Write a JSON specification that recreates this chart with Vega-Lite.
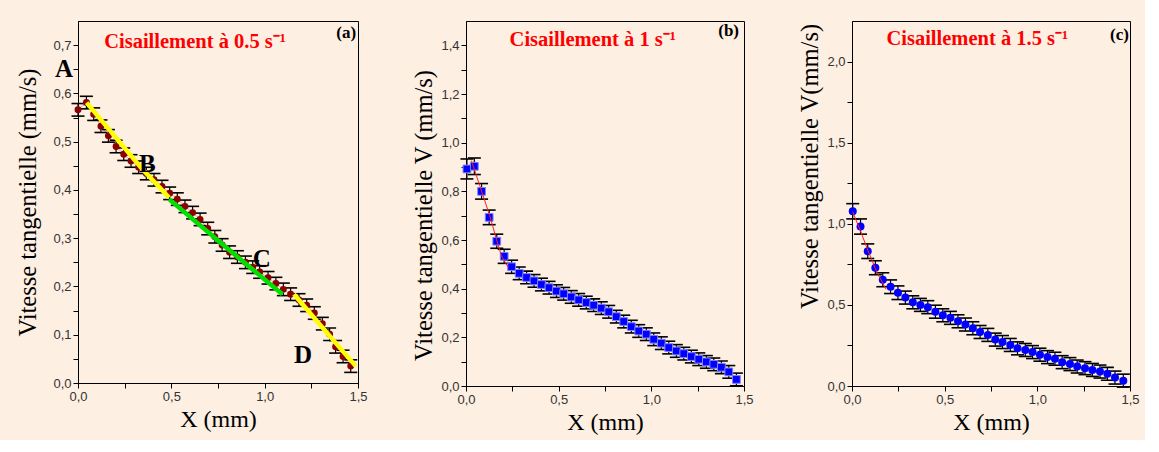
{
  "$schema": "https://vega.github.io/schema/vega-lite/v6.json",
  "background": "#FDEFE2",
  "padding": {"left": 15, "top": 20, "right": 5, "bottom": 5},
  "spacing": 108,
  "bounds": "flush",
  "datasets": {
    "a": [
      {"x": 0.0, "v": 0.566, "e": 0.013}, {"x": 0.045, "v": 0.581, "e": 0.013}, {"x": 0.084, "v": 0.557, "e": 0.013},
      {"x": 0.123, "v": 0.532, "e": 0.013}, {"x": 0.163, "v": 0.512, "e": 0.013}, {"x": 0.204, "v": 0.49, "e": 0.013},
      {"x": 0.245, "v": 0.474, "e": 0.013}, {"x": 0.284, "v": 0.46, "e": 0.013}, {"x": 0.325, "v": 0.447, "e": 0.013},
      {"x": 0.366, "v": 0.434, "e": 0.013}, {"x": 0.407, "v": 0.421, "e": 0.013}, {"x": 0.45, "v": 0.407, "e": 0.013},
      {"x": 0.491, "v": 0.393, "e": 0.013}, {"x": 0.532, "v": 0.381, "e": 0.013}, {"x": 0.573, "v": 0.366, "e": 0.013},
      {"x": 0.614, "v": 0.353, "e": 0.013}, {"x": 0.654, "v": 0.339, "e": 0.013}, {"x": 0.695, "v": 0.32, "e": 0.013},
      {"x": 0.733, "v": 0.303, "e": 0.013}, {"x": 0.772, "v": 0.286, "e": 0.013}, {"x": 0.812, "v": 0.271, "e": 0.013},
      {"x": 0.854, "v": 0.261, "e": 0.013}, {"x": 0.897, "v": 0.25, "e": 0.013}, {"x": 0.936, "v": 0.24, "e": 0.013},
      {"x": 0.973, "v": 0.23, "e": 0.013}, {"x": 1.018, "v": 0.218, "e": 0.013}, {"x": 1.06, "v": 0.206, "e": 0.013},
      {"x": 1.1, "v": 0.194, "e": 0.013}, {"x": 1.139, "v": 0.184, "e": 0.013}, {"x": 1.184, "v": 0.172, "e": 0.013},
      {"x": 1.225, "v": 0.161, "e": 0.013}, {"x": 1.266, "v": 0.145, "e": 0.013}, {"x": 1.309, "v": 0.123, "e": 0.013},
      {"x": 1.348, "v": 0.101, "e": 0.013}, {"x": 1.38, "v": 0.075, "e": 0.013}, {"x": 1.42, "v": 0.055, "e": 0.013},
      {"x": 1.461, "v": 0.035, "e": 0.013}
    ],
    "a_seg": [
      {"x": 0.046, "v": 0.581, "seg": "AB"}, {"x": 0.336, "v": 0.447, "seg": "AB"}, {"x": 0.4875, "v": 0.384, "seg": "AB"},
      {"x": 0.4875, "v": 0.381, "seg": "BC"}, {"x": 0.809, "v": 0.276, "seg": "BC"}, {"x": 1.095, "v": 0.184, "seg": "BC"},
      {"x": 1.157, "v": 0.184, "seg": "CD"}, {"x": 1.309, "v": 0.115, "seg": "CD"}, {"x": 1.488, "v": 0.035, "seg": "CD"}
    ],
    "a_letters": [
      {"x": -0.075, "v": 0.651, "t": "A"}, {"x": 0.371, "v": 0.454, "t": "B"},
      {"x": 0.984, "v": 0.257, "t": "C"}, {"x": 1.205, "v": 0.058, "t": "D"}
    ],
    "a_title": [{"x": 0.627, "v": 0.707, "t": "Cisaillement à 0.5 s⁻¹"}],
    "a_tag": [{"x": 1.49, "v": 0.726, "t": "(a)"}],
    "b": [
      {"x": 0.005, "v": 0.892, "e": 0.041}, {"x": 0.045, "v": 0.903, "e": 0.034}, {"x": 0.084, "v": 0.8, "e": 0.032},
      {"x": 0.125, "v": 0.693, "e": 0.03}, {"x": 0.166, "v": 0.595, "e": 0.029}, {"x": 0.206, "v": 0.533, "e": 0.029},
      {"x": 0.246, "v": 0.49, "e": 0.027}, {"x": 0.287, "v": 0.463, "e": 0.026}, {"x": 0.327, "v": 0.446, "e": 0.026},
      {"x": 0.367, "v": 0.432, "e": 0.026}, {"x": 0.407, "v": 0.417, "e": 0.026}, {"x": 0.448, "v": 0.404, "e": 0.026},
      {"x": 0.488, "v": 0.39, "e": 0.026}, {"x": 0.527, "v": 0.379, "e": 0.026}, {"x": 0.568, "v": 0.366, "e": 0.026},
      {"x": 0.608, "v": 0.354, "e": 0.026}, {"x": 0.649, "v": 0.343, "e": 0.026}, {"x": 0.689, "v": 0.332, "e": 0.026},
      {"x": 0.73, "v": 0.32, "e": 0.026}, {"x": 0.77, "v": 0.305, "e": 0.026}, {"x": 0.811, "v": 0.285, "e": 0.026},
      {"x": 0.851, "v": 0.265, "e": 0.026}, {"x": 0.892, "v": 0.244, "e": 0.026}, {"x": 0.932, "v": 0.226, "e": 0.026},
      {"x": 0.973, "v": 0.213, "e": 0.026}, {"x": 1.013, "v": 0.192, "e": 0.026}, {"x": 1.054, "v": 0.176, "e": 0.026},
      {"x": 1.094, "v": 0.158, "e": 0.026}, {"x": 1.135, "v": 0.144, "e": 0.026}, {"x": 1.175, "v": 0.133, "e": 0.026},
      {"x": 1.216, "v": 0.121, "e": 0.026}, {"x": 1.256, "v": 0.11, "e": 0.026}, {"x": 1.297, "v": 0.099, "e": 0.026},
      {"x": 1.337, "v": 0.089, "e": 0.026}, {"x": 1.378, "v": 0.077, "e": 0.026}, {"x": 1.418, "v": 0.058, "e": 0.026},
      {"x": 1.459, "v": 0.027, "e": 0.026}
    ],
    "b_fit": [
      {"x": 0.029, "v": 0.926}, {"x": 0.074, "v": 0.824}, {"x": 0.128, "v": 0.7}, {"x": 0.164, "v": 0.604},
      {"x": 0.191, "v": 0.535}, {"x": 0.227, "v": 0.488}
    ],
    "b_title": [{"x": 0.684, "v": 1.421, "t": "Cisaillement à 1 s⁻¹"}],
    "b_tag": [{"x": 1.473, "v": 1.46, "t": "(b)"}],
    "c": [
      {"x": 0.004, "v": 1.077, "e": 0.047}, {"x": 0.046, "v": 0.983, "e": 0.047}, {"x": 0.085, "v": 0.831, "e": 0.045},
      {"x": 0.126, "v": 0.729, "e": 0.043}, {"x": 0.166, "v": 0.655, "e": 0.043}, {"x": 0.208, "v": 0.612, "e": 0.042},
      {"x": 0.248, "v": 0.575, "e": 0.042}, {"x": 0.288, "v": 0.545, "e": 0.04}, {"x": 0.328, "v": 0.516, "e": 0.04},
      {"x": 0.369, "v": 0.5, "e": 0.04}, {"x": 0.409, "v": 0.486, "e": 0.04}, {"x": 0.45, "v": 0.458, "e": 0.04},
      {"x": 0.49, "v": 0.436, "e": 0.04}, {"x": 0.531, "v": 0.42, "e": 0.04}, {"x": 0.572, "v": 0.399, "e": 0.04},
      {"x": 0.612, "v": 0.379, "e": 0.04}, {"x": 0.652, "v": 0.356, "e": 0.04}, {"x": 0.691, "v": 0.333, "e": 0.04},
      {"x": 0.733, "v": 0.315, "e": 0.04}, {"x": 0.773, "v": 0.286, "e": 0.04}, {"x": 0.812, "v": 0.271, "e": 0.04},
      {"x": 0.854, "v": 0.253, "e": 0.04}, {"x": 0.893, "v": 0.232, "e": 0.04}, {"x": 0.935, "v": 0.222, "e": 0.04},
      {"x": 0.974, "v": 0.209, "e": 0.04}, {"x": 1.014, "v": 0.193, "e": 0.04}, {"x": 1.055, "v": 0.178, "e": 0.04},
      {"x": 1.095, "v": 0.168, "e": 0.04}, {"x": 1.134, "v": 0.147, "e": 0.04}, {"x": 1.176, "v": 0.135, "e": 0.04},
      {"x": 1.215, "v": 0.12, "e": 0.04}, {"x": 1.257, "v": 0.11, "e": 0.04}, {"x": 1.297, "v": 0.099, "e": 0.04},
      {"x": 1.338, "v": 0.089, "e": 0.04}, {"x": 1.378, "v": 0.075, "e": 0.04}, {"x": 1.419, "v": 0.052, "e": 0.04},
      {"x": 1.464, "v": 0.033, "e": 0.04}
    ],
    "c_fit": [
      {"x": 0.004, "v": 1.073}, {"x": 0.045, "v": 0.958}, {"x": 0.09, "v": 0.824}, {"x": 0.135, "v": 0.7},
      {"x": 0.184, "v": 0.596}
    ],
    "c_title": [{"x": 0.676, "v": 2.139, "t": "Cisaillement à 1.5 s⁻¹"}],
    "c_tag": [{"x": 1.494, "v": 2.163, "t": "(c)"}]
  },
  "hconcat": [
    {
      "width": 280,
      "height": 362,
      "encoding": {
        "x": {"field": "x", "type": "quantitative",
          "scale": {"domain": [0, 1.5], "nice": false, "zero": false},
          "axis": {"title": "X (mm)", "values": [0, 0.25, 0.5, 0.75, 1, 1.25, 1.5],
            "labelExpr": "abs(datum.value*2-round(datum.value*2))<0.001 ? replace(format(datum.value,'.1f'),'.',',') : ''"}},
        "y": {"field": "v", "type": "quantitative",
          "scale": {"domain": [0, 0.75], "nice": false, "zero": false},
          "axis": {"title": "Vitesse tangentielle (mm/s)", "titlePadding": 12,
            "values": [0, 0.05, 0.1, 0.15, 0.2, 0.25, 0.3, 0.35, 0.4, 0.45, 0.5, 0.55, 0.6, 0.65, 0.7],
            "labelExpr": "abs(datum.value*10-round(datum.value*10))<0.001 ? replace(format(datum.value,'.1f'),'.',',') : ''"}}
      },
      "layer": [
        {"data": {"name": "a"}, "mark": {"type": "line", "color": "#F39A9A", "strokeWidth": 1}},
        {"data": {"name": "a"}, "mark": {"type": "errorbar", "ticks": {"size": 13, "color": "black", "thickness": 1.6, "opacity": 1}, "rule": {"color": "black", "strokeWidth": 1.2, "opacity": 1}},
          "encoding": {"yError": {"field": "e"}}},
        {"data": {"name": "a"}, "mark": {"type": "point", "filled": true, "shape": "circle", "size": 48, "color": "#8B0000", "opacity": 1}},
        {"data": {"name": "a_seg"}, "mark": {"type": "line", "strokeWidth": 4.5, "strokeCap": "butt"},
          "encoding": {"color": {"field": "seg", "type": "nominal", "legend": null,
            "scale": {"domain": ["AB", "BC", "CD"], "range": ["#FFFF00", "#00E000", "#FFFF00"]}}}},
        {"data": {"name": "a_letters"}, "mark": {"type": "text", "font": "Liberation Serif", "fontWeight": "bold", "fontSize": 25, "align": "center", "baseline": "middle", "color": "black"},
          "encoding": {"text": {"field": "t", "type": "nominal"}}},
        {"data": {"name": "a_title"}, "mark": {"type": "text", "font": "Liberation Serif", "fontWeight": "bold", "fontSize": 20.5, "color": "#FF0000", "align": "center", "baseline": "middle"},
          "encoding": {"text": {"field": "t", "type": "nominal"}}},
        {"data": {"name": "a_tag"}, "mark": {"type": "text", "font": "Liberation Serif", "fontWeight": "bold", "fontSize": 17, "align": "right", "baseline": "middle", "color": "black"},
          "encoding": {"text": {"field": "t", "type": "nominal"}}}
      ]
    },
    {
      "width": 278,
      "height": 365,
      "encoding": {
        "x": {"field": "x", "type": "quantitative",
          "scale": {"domain": [0, 1.5], "nice": false, "zero": false},
          "axis": {"title": "X (mm)", "values": [0, 0.25, 0.5, 0.75, 1, 1.25, 1.5],
            "labelExpr": "abs(datum.value*2-round(datum.value*2))<0.001 ? replace(format(datum.value,'.1f'),'.',',') : ''"}},
        "y": {"field": "v", "type": "quantitative",
          "scale": {"domain": [0, 1.5], "nice": false, "zero": false},
          "axis": {"title": "Vitesse tangentielle V (mm/s)", "titlePadding": 4, "titleY": 194,
            "values": [0, 0.1, 0.2, 0.3, 0.4, 0.5, 0.6, 0.7, 0.8, 0.9, 1, 1.1, 1.2, 1.3, 1.4],
            "labelExpr": "abs(datum.value*5-round(datum.value*5))<0.001 ? replace(format(datum.value,'.1f'),'.',',') : ''"}}
      },
      "layer": [
        {"data": {"name": "b"}, "transform": [{"filter": "datum.x > 0.2"}], "mark": {"type": "line", "color": "#F39A9A", "strokeWidth": 1}},
        {"data": {"name": "b"}, "mark": {"type": "errorbar", "ticks": {"size": 13, "color": "black", "thickness": 1.6, "opacity": 1}, "rule": {"color": "black", "strokeWidth": 1.2, "opacity": 1}},
          "encoding": {"yError": {"field": "e"}}},
        {"data": {"name": "b"}, "mark": {"type": "point", "filled": true, "shape": "square", "size": 60, "color": "#0000FF", "stroke": "#8080FF", "strokeWidth": 1, "opacity": 1}},
        {"data": {"name": "b_fit"}, "mark": {"type": "line", "color": "#FF2020", "strokeWidth": 1}},
        {"data": {"name": "b_title"}, "mark": {"type": "text", "font": "Liberation Serif", "fontWeight": "bold", "fontSize": 20.5, "color": "#FF0000", "align": "center", "baseline": "middle"},
          "encoding": {"text": {"field": "t", "type": "nominal"}}},
        {"data": {"name": "b_tag"}, "mark": {"type": "text", "font": "Liberation Serif", "fontWeight": "bold", "fontSize": 17, "align": "right", "baseline": "middle", "color": "black"},
          "encoding": {"text": {"field": "t", "type": "nominal"}}}
      ]
    },
    {
      "width": 278,
      "height": 365,
      "encoding": {
        "x": {"field": "x", "type": "quantitative",
          "scale": {"domain": [0, 1.5], "nice": false, "zero": false},
          "axis": {"title": "X (mm)", "values": [0, 0.25, 0.5, 0.75, 1, 1.25, 1.5],
            "labelExpr": "abs(datum.value*2-round(datum.value*2))<0.001 ? replace(format(datum.value,'.1f'),'.',',') : ''"}},
        "y": {"field": "v", "type": "quantitative",
          "scale": {"domain": [0, 2.25], "nice": false, "zero": false},
          "axis": {"title": "Vitesse tangentielle V(mm/s)", "titlePadding": 4, "titleY": 145,
            "values": [0, 0.25, 0.5, 0.75, 1, 1.25, 1.5, 1.75, 2],
            "labelExpr": "abs(datum.value*2-round(datum.value*2))<0.001 ? replace(format(datum.value,'.1f'),'.',',') : ''"}}
      },
      "layer": [
        {"data": {"name": "c"}, "transform": [{"filter": "datum.x > 0.17"}], "mark": {"type": "line", "color": "#F39A9A", "strokeWidth": 1}},
        {"data": {"name": "c"}, "mark": {"type": "errorbar", "ticks": {"size": 13, "color": "black", "thickness": 1.6, "opacity": 1}, "rule": {"color": "black", "strokeWidth": 1.2, "opacity": 1}},
          "encoding": {"yError": {"field": "e"}}},
        {"data": {"name": "c"}, "mark": {"type": "point", "filled": true, "shape": "circle", "size": 64, "color": "#0000FF", "opacity": 1}},
        {"data": {"name": "c_fit"}, "mark": {"type": "line", "color": "#FF2020", "strokeWidth": 1}},
        {"data": {"name": "c_title"}, "mark": {"type": "text", "font": "Liberation Serif", "fontWeight": "bold", "fontSize": 20.5, "color": "#FF0000", "align": "center", "baseline": "middle"},
          "encoding": {"text": {"field": "t", "type": "nominal"}}},
        {"data": {"name": "c_tag"}, "mark": {"type": "text", "font": "Liberation Serif", "fontWeight": "bold", "fontSize": 17, "align": "right", "baseline": "middle", "color": "black"},
          "encoding": {"text": {"field": "t", "type": "nominal"}}}
      ]
    }
  ],
  "config": {
    "view": {"stroke": "black", "strokeWidth": 1},
    "axis": {
      "grid": false, "domainColor": "black", "tickColor": "black", "tickSize": 5,
      "labelFont": "Liberation Sans", "labelFontSize": 13, "labelColor": "#333333", "labelPadding": 2,
      "labelOverlap": false, "labelFlush": false, "labelBound": false,
      "titleFont": "Liberation Serif", "titleFontWeight": "normal", "titleColor": "black",
      "titlePadding": 4
    },
    "axisX": {"titleFontSize": 24},
    "axisY": {"titleFontSize": 24.5}
  }
}
